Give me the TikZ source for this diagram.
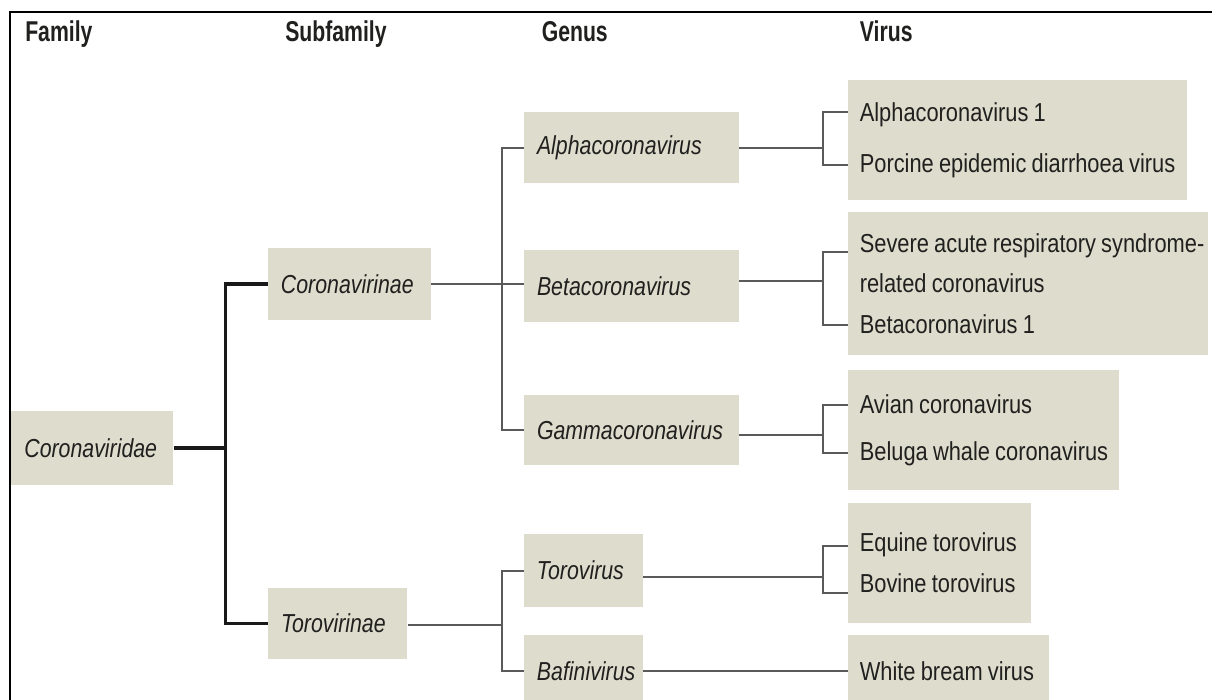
\documentclass[tikz,border=0pt]{standalone}
\usepackage{fontspec}
\newfontfamily\bodyf{Liberation Sans}[FakeStretch=0.82]
\newfontfamily\virf{Liberation Sans}[FakeStretch=0.84]
\newfontfamily\headf{Liberation Sans}[FakeStretch=0.74]
\newcommand\tightsp{\spaceskip=0.2em plus 0.05em minus 0.02em\relax}
\definecolor{boxc}{RGB}{221,220,205}
\definecolor{txtc}{RGB}{32,32,30}
\definecolor{glc}{RGB}{90,90,90}
\definecolor{flc}{RGB}{25,25,25}
\begin{document}
\begin{tikzpicture}[x=0.75pt,y=-0.75pt,
  genbox/.style={fill=boxc, draw=none, text=txtc, align=left, inner ysep=0pt, inner xsep=9.75pt,
    font=\bodyf\itshape\fontsize{19.5pt}{23.4pt}\selectfont},
  virbox/.style={fill=boxc, draw=none, text=txtc, align=left, inner ysep=0pt, inner xsep=9pt,
    font=\virf\fontsize{19.5pt}{#1}\selectfont},
  hdr/.style={anchor=base west, inner sep=0pt, text=txtc,
    font=\headf\bfseries\fontsize{21.5pt}{25pt}\selectfont},
  famline/.style={draw=flc, line width=2.5pt, line join=miter},
  gline/.style={draw=glc, line width=1.5pt, line join=miter},
  frameline/.style={draw=black, line width=1.6pt}
]
\useasboundingbox (0,0) rectangle (1212,699);
\clip (0,0) rectangle (1212,699);
\fill[white] (0,0) rectangle (1212,699);

% frame
\draw[frameline] (10,705) -- (10,11.7) -- (1220,11.7);

% headers
\node[hdr] (hfam) at (25,41) {Family};
\node[hdr] (hsub) at (285,41) {Subfamily};
\node[hdr] (hgen) at (541.5,41) {Genus};
\node[hdr] (hvir) at (859.6,41) {Virus};

% family / subfamily
\node[genbox, text width=102pt, minimum height=55.5pt] (cvd) at (92.4,448) {\mbox{Coronaviridae}};
\node[genbox, text width=102.4pt, minimum height=54pt] (cvn) at (349.25,284) {\mbox{Coronavirinae}};
\node[genbox, text width=85.1pt, minimum height=53.25pt] (tvn) at (337.75,623.5) {\mbox{Torovirinae}};

% genus
\node[genbox, text width=141.45pt, minimum height=53.25pt] (alg) at (631.3,147.5) {\mbox{Alphacoronavirus}};
\node[genbox, text width=141.45pt, minimum height=54pt] (beg) at (631.3,286) {\mbox{Betacoronavirus}};
\node[genbox, text width=141.45pt, minimum height=52.5pt] (gag) at (631.3,430) {\mbox{Gammacoronavirus}};
\node[genbox, text width=69.4pt, minimum height=54.75pt] (tvg) at (583.25,570.5) {\mbox{Torovirus}};
\node[genbox, text width=69.4pt, minimum height=54pt] (bag) at (583.25,671) {\mbox{Bafinivirus}};

% virus
\node[virbox=38.25pt, text width=236.7pt, minimum height=90pt] (alv) at (1017.6,140)
  {\tightsp\mbox{Alphacoronavirus 1}\\\mbox{Porcine epidemic diarrhoea virus}};
\node[virbox=30.4pt, text width=252.15pt, minimum height=107.25pt] (bev) at (1027.9,283.5)
  {\tightsp\mbox{Severe acute respiratory syndrome-}\\\mbox{related coronavirus}\\\mbox{Betacoronavirus 1}};
\node[virbox=35.25pt, text width=185.4pt, minimum height=90pt] (gav) at (983.4,430)
  {\tightsp\mbox{Avian coronavirus}\\\mbox{Beluga whale coronavirus}};
\node[virbox=30.75pt, text width=119pt, minimum height=90pt] (tvv) at (939.15,563)
  {\tightsp\mbox{Equine torovirus}\\\mbox{Bovine torovirus}};
\node[virbox=23.4pt, text width=132.9pt, minimum height=54pt] (wbv) at (948.4,671)
  {\tightsp\mbox{White bream virus}};

% junction coordinates
\coordinate (jf) at (225.8,448);
\coordinate (jc) at (501.5,284);
\coordinate (jt) at (501.5,625);
\coordinate (ka) at (822.5,147.5);
\coordinate (kb) at (822.5,281);
\coordinate (kg) at (822.5,435);
\coordinate (kt) at (822.5,577);
\coordinate (a1) at (847.8,112);
\coordinate (a2) at (847.8,165);
\coordinate (b1) at (847.8,251.5);
\coordinate (b2) at (847.8,325);
\coordinate (g1) at (847.8,405);
\coordinate (g2) at (847.8,453);
\coordinate (t1) at (847.8,546);
\coordinate (t2) at (847.8,593);

% family connectors
\draw[famline] (cvd.east) -- (jf);
\draw[famline] (cvn.west) -| (jf) |- (tvn.west);

% subfamily -> genus
\draw[gline] (cvn.east) -- (cvn.east -| beg.west);
\draw[gline] (alg.west) -| (jc) |- (gag.west);
\draw[gline] (tvn.east |- jt) -- (jt);
\draw[gline] (tvg.west) -| (jt) |- (bag.west);

% genus -> virus
\draw[gline] (alg.east |- ka) -- (ka);
\draw[gline] (a1) -| (ka) |- (a2);
\draw[gline] (beg.east |- kb) -- (kb);
\draw[gline] (b1) -| (kb) |- (b2);
\draw[gline] (gag.east |- kg) -- (kg);
\draw[gline] (g1) -| (kg) |- (g2);
\draw[gline] (tvg.east |- kt) -- (kt);
\draw[gline] (t1) -| (kt) |- (t2);
\draw[gline] (bag.east) -- (wbv.west);
\end{tikzpicture}
\end{document}
